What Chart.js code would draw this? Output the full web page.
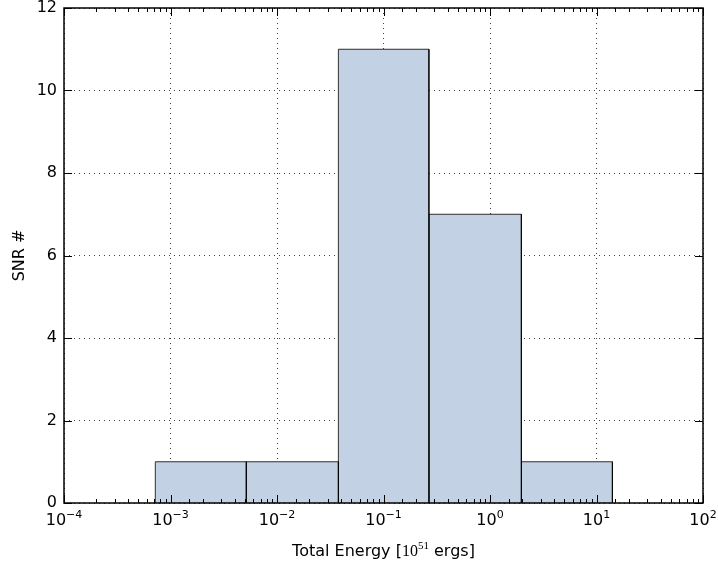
<!DOCTYPE html>
<html>
<head>
<meta charset="utf-8">
<script src="https://cdn.jsdelivr.net/npm/chart.js@4.4.0/dist/chart.umd.min.js"></script>
<style>
  html, body { margin: 0; padding: 0; background: #fff; }
  #wrap { width: 718px; height: 567px; }
</style>
</head>
<body>
<div id="wrap"><canvas id="ChartEnergia" width="718" height="567"></canvas></div>
<script>
// Datos del histograma (bordes de bins en escala log y cuentas)
const binEdges = [7.2e-4, 5.15e-3, 3.77e-2, 2.67e-1, 1.97, 14.1];
const counts = [1, 1, 11, 7, 1];
const xTickExps = [-4, -3, -2, -1, 0, 1, 2];

const FONT = 'DejaVu Sans';
const SERIF = 'Liberation Serif';
const COLOR_BARRA = '#c3d1e4';
const COLOR_BORDE = 'rgba(0, 0, 0, 0.8)';
const GRID = 'rgba(0, 0, 0, 0.75)';

Chart.defaults.font.family = FONT;

function esMayor(v) {
    const l = Math.log10(v);
    return Math.abs(l - Math.round(l)) < 1e-6;
}

// Plugin: marco, ticks hacia adentro, etiquetas 10^n y titulo del eje x
const marcoPlugin = {
    id: 'marco',
    afterDraw(chart) {
        const { ctx, chartArea: a, scales: { x, y } } = chart;
        ctx.save();
        ctx.strokeStyle = '#000';
        ctx.lineWidth = 1;
        ctx.beginPath();
        x.ticks.forEach(t => {
            const px = Math.round(x.getPixelForValue(t.value)) + 0.5;
            const len = esMayor(t.value) ? 8 : 4;
            ctx.moveTo(px, a.bottom); ctx.lineTo(px, a.bottom - len);
            ctx.moveTo(px, a.top); ctx.lineTo(px, a.top + len);
        });
        y.ticks.forEach(t => {
            const py = Math.round(y.getPixelForValue(t.value)) + 0.5;
            ctx.moveTo(a.left, py); ctx.lineTo(a.left + 8, py);
            ctx.moveTo(a.right, py); ctx.lineTo(a.right - 8, py);
        });
        ctx.stroke();

        ctx.lineWidth = 1.5;
        ctx.strokeRect(a.left, a.top, a.right - a.left, a.bottom - a.top);

        // etiquetas del eje x: 10 con exponente
        ctx.fillStyle = '#000';
        ctx.textBaseline = 'alphabetic';
        ctx.textAlign = 'left';
        xTickExps.forEach(e => {
            const px = x.getPixelForValue(Math.pow(10, e));
            const base = '10';
            const sup = (e < 0 ? '\u2212' : '') + Math.abs(e);
            ctx.font = '16px ' + FONT;
            const wb = ctx.measureText(base).width;
            ctx.font = '11px ' + FONT;
            const ws = ctx.measureText(sup).width;
            const x0 = px - (wb + ws) / 2;
            ctx.font = '16px ' + FONT;
            ctx.fillText(base, x0, 525);
            ctx.font = '11px ' + FONT;
            ctx.fillText(sup, x0 + wb, 518);
        });

        // titulo del eje x
        const partes = [
            { t: 'Total Energy [', f: '16px ' + FONT, dy: 0 },
            { t: '10', f: '16px ' + SERIF, dy: 0 },
            { t: '51', f: '11px ' + SERIF, dy: -7 },
            { t: ' ergs]', f: '16px ' + FONT, dy: 0 }
        ];
        let total = 0;
        partes.forEach(p => { ctx.font = p.f; p.w = ctx.measureText(p.t).width; total += p.w; });
        let cx = (a.left + a.right) / 2 - total / 2;
        partes.forEach(p => {
            ctx.font = p.f;
            ctx.fillText(p.t, cx, 556 + p.dy);
            cx += p.w;
        });
        ctx.restore();
    }
};

// Un poligono por barra, dibujado con las escalas de Chart.js
const datasets = counts.map((c, i) => ({
    data: [
        { x: binEdges[i], y: 0 },
        { x: binEdges[i], y: c },
        { x: binEdges[i + 1], y: c },
        { x: binEdges[i + 1], y: 0 }
    ],
    showLine: true,
    fill: 'origin',
    backgroundColor: COLOR_BARRA,
    borderColor: COLOR_BORDE,
    borderWidth: 1,
    pointRadius: 0,
    tension: 0
}));

const ctx = document.getElementById('ChartEnergia').getContext('2d');
const grafico = new Chart(ctx, {
    type: 'scatter',
    data: { datasets: datasets },
    options: {
        responsive: false,
        animation: false,
        layout: { autoPadding: false, padding: { top: 8, right: 15, left: 0, bottom: 0 } },
        plugins: {
            legend: { display: false },
            tooltip: { enabled: false }
        },
        scales: {
            x: {
                type: 'logarithmic',
                min: 1e-4,
                max: 100,
                z: 1,
                afterFit: s => { s.height = 64; s.paddingLeft = 0; s.paddingRight = 0; },
                ticks: { display: false, autoSkip: false },
                grid: {
                    color: c => (c.tick && esMayor(c.tick.value)) ? GRID : 'rgba(0,0,0,0)',
                    drawTicks: false,
                    lineWidth: 1
                },
                border: { display: false, dash: [1, 4] }
            },
            y: {
                min: 0,
                max: 12,
                z: 1,
                afterFit: s => { s.width = 64; s.paddingTop = 0; s.paddingBottom = 0; },
                ticks: { stepSize: 2, padding: 7, color: '#000', font: { family: FONT, size: 16 } },
                grid: { color: GRID, drawTicks: false, lineWidth: 1 },
                border: { display: false, dash: [1, 4] },
                title: {
                    display: true,
                    text: 'SNR #',
                    color: '#000',
                    font: { family: FONT, size: 16 },
                    padding: { top: 10, bottom: 0 }
                }
            }
        }
    },
    plugins: [marcoPlugin]
});
</script>
</body>
</html>
